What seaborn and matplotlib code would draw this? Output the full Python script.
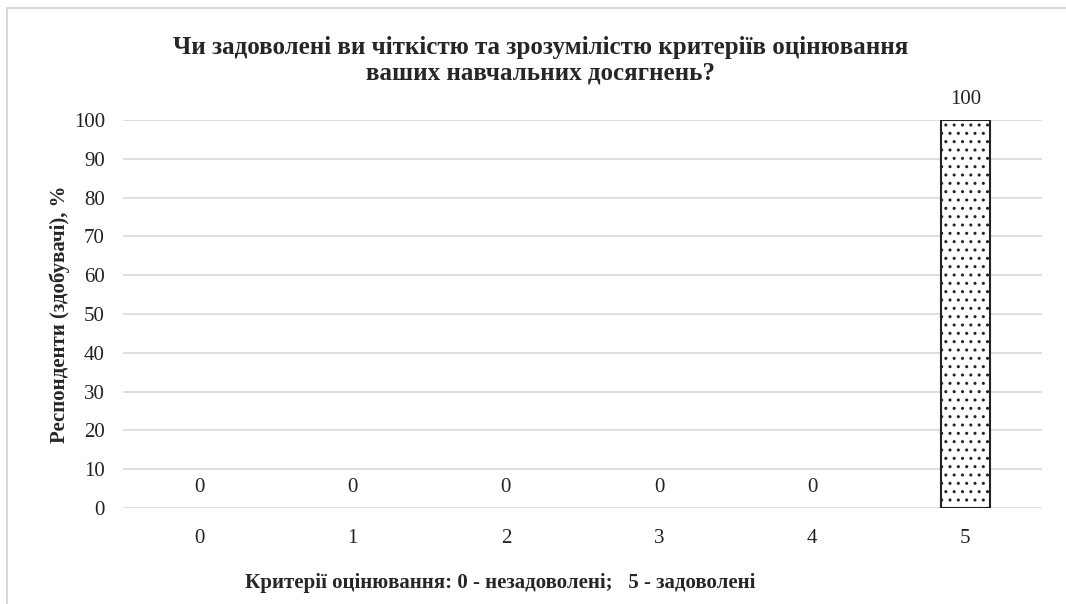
#!/usr/bin/env python3
import warnings
warnings.simplefilter(action='ignore', category=UserWarning)
import pandas as pd
import seaborn as sns
import matplotlib.pyplot as plt
from matplotlib.lines import Line2D

# data
categories = ['0', '1', '2', '3', '4', '5']
values = [0, 0, 0, 0, 0, 100]
y_ticks = [0, 10, 20, 30, 40, 50, 60, 70, 80, 90, 100]

title = ('Чи задоволені ви чіткістю та зрозумілістю критеріїв оцінювання\n'
         'ваших навчальних досягнень?')
y_label = 'Респонденти (здобувачі), %'
x_label = 'Критерії оцінювання: 0 - незадоволені;   5 - задоволені'


def main():
    df = pd.DataFrame({'Критерій': categories, 'Відсоток': values})

    sns.set_theme(style='white')
    plt.rcParams['font.family'] = ['Liberation Serif', 'DejaVu Serif']
    plt.rcParams['hatch.linewidth'] = 1.0

    fig = plt.figure(figsize=(10.66, 6.04), dpi=100)
    ax = fig.add_axes([123 / 1066, 1 - 508 / 604, 919 / 1066, 388 / 604])

    sns.barplot(ax=ax, data=df, x='Критерій', y='Відсоток', color='white',
                edgecolor='black', linewidth=1.5, width=0.32, saturation=1)

    for p, v in zip(ax.patches, values):
        p.set_hatch('..')
        p.set_facecolor('white')
        p.set_edgecolor('#222222')
        p.set_zorder(3)
        if v == 0:
            p.set_linewidth(0)

    for c in ax.containers:
        ax.bar_label(c, labels=[f'{v:g}' for v in values], padding=8,
                     fontsize=15, color='#222222')

    ax.set_xlim(-0.5, 5.5)
    ax.set_ylim(0, 100)
    ax.set_yticks(y_ticks)
    ax.yaxis.grid(True, color='#d9d9d9', linewidth=1.2)
    ax.set_axisbelow(True)
    for s in ax.spines.values():
        s.set_visible(False)
    ax.tick_params(axis='both', length=0, labelsize=15, labelcolor='#222222')
    ax.tick_params(axis='x', pad=15)
    ax.tick_params(axis='y', pad=13)

    ax.set_xlabel('')
    ax.set_ylabel(y_label, fontsize=15, fontweight='bold')
    ax.yaxis.set_label_coords(-0.058, 0.5)

    fig.text(0.507, 1 - 60 / 604, title, ha='center', va='center',
             fontsize=18, fontweight='bold', linespacing=1.15)
    fig.text(0.469, 1 - 583 / 604, x_label, ha='center', va='center',
             fontsize=15, fontweight='bold')

    # light frame of the chart area (left and top edges)
    fig.add_artist(Line2D([7 / 1066, 7 / 1066], [0, 1 - 8 / 604],
                          transform=fig.transFigure, color='#d9d9d9', linewidth=1.5))
    fig.add_artist(Line2D([7 / 1066, 1], [1 - 8 / 604, 1 - 8 / 604],
                          transform=fig.transFigure, color='#d9d9d9', linewidth=1.5))

    fig.savefig('out.png', dpi=100)


if __name__ == '__main__':
    main()
